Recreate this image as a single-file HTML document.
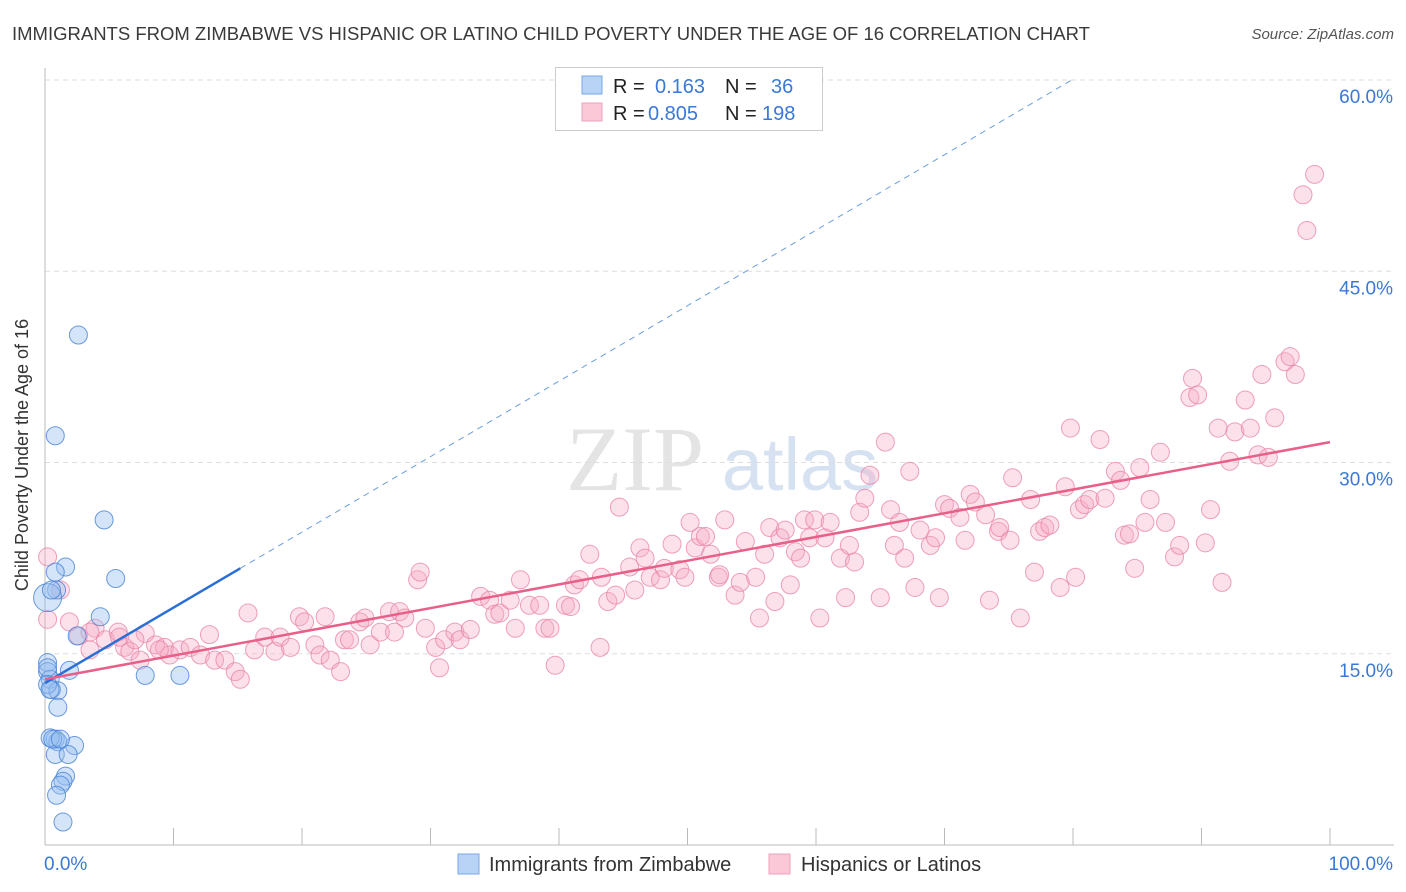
<!DOCTYPE html>
<html><head><meta charset="utf-8">
<style>
body{margin:0;background:#fff;font-family:"Liberation Sans",sans-serif;}
svg{display:block}
</style></head>
<body>
<svg id="chart" width="1406" height="892" viewBox="0 0 1406 892" xmlns="http://www.w3.org/2000/svg">
<text x="12" y="40" font-size="18.5" fill="#3a3a3a">IMMIGRANTS FROM ZIMBABWE VS HISPANIC OR LATINO CHILD POVERTY UNDER THE AGE OF 16 CORRELATION CHART</text>
<text x="1394" y="39" font-size="15" fill="#555" font-style="italic" text-anchor="end">Source: ZipAtlas.com</text>
<g>
<text x="635" y="490" font-size="92" fill="#e4e4e4" font-family="Liberation Serif, serif" text-anchor="middle">ZIP</text>
<text x="800" y="490" font-size="74" fill="#d6e2f2" text-anchor="middle">atlas</text>
</g>
<g id="grid"></g>
<g id="axes"></g>
<g id="pinkPts"></g>
<g id="bluePts"></g>
<g id="trends"></g>
<text x="28" y="455" font-size="18" fill="#333" text-anchor="middle" transform="rotate(-90 28 455)">Child Poverty Under the Age of 16</text>
<g>
<rect x="555.5" y="67.5" width="267" height="63" fill="#fff" stroke="#ccc"/>
<rect x="582" y="76" width="20" height="18" fill="#b8d3f5" stroke="#7aa8e6"/>
<rect x="582" y="103" width="20" height="18" fill="#fbc8d8" stroke="#eea0ba"/>
<text x="613" y="93" font-size="20" fill="#222">R = </text><text x="655" y="93" font-size="20" fill="#3a78d8">0.163</text>
<text x="725" y="93" font-size="20" fill="#222">N = </text><text x="771" y="93" font-size="20" fill="#3a78d8">36</text>
<text x="613" y="120" font-size="20" fill="#222">R = </text><text x="648" y="120" font-size="20" fill="#3a78d8">0.805</text>
<text x="725" y="120" font-size="20" fill="#222">N = </text><text x="762" y="120" font-size="20" fill="#3a78d8">198</text>
</g>
<g>
<rect x="458" y="854" width="21" height="20" fill="#b8d3f5" stroke="#7aa8e6"/>
<text x="489" y="871" font-size="20" fill="#333">Immigrants from Zimbabwe</text>
<rect x="769" y="854" width="21" height="20" fill="#fbc8d8" stroke="#eea0ba"/>
<text x="801" y="871" font-size="20" fill="#333">Hispanics or Latinos</text>
</g>
</svg>
<script>
const yTicks=[15,30,45,60];
const yTickLabels=["15.0%","30.0%","45.0%","60.0%"];
const xTicks=[0,10,20,30,40,50,60,70,80,90,100];
const xEndLabels=["0.0%","100.0%"];
const blueX=[2.6,0.8,4.6,5.5,1.6,0.8,0.9,0.2,4.3,2.5,7.8,10.5,1.9,0.2,0.2,0.4,0.5,1.0,1.0,0.8,1.0,0.4,2.3,0.8,1.8,1.6,1.4,1.2,0.9,1.4,0.2,0.2,0.6,1.2,0.4,0.5];
const blueY=[40.0,32.1,25.5,20.9,21.8,21.4,20.0,19.4,17.9,16.4,13.3,13.3,13.7,14.3,13.6,13.0,12.2,12.1,10.8,8.3,8.1,8.4,7.8,7.1,7.1,5.4,5.0,4.7,3.9,1.8,13.9,12.6,8.3,8.3,12.2,20.0];
const pinkX=[0.2,1.2,1.9,3.5,3.9,2.6,4.7,5.7,6.2,6.6,7.4,7.8,8.6,9.3,9.7,10.5,11.3,12.1,12.8,13.2,14.0,14.8,15.2,15.8,16.3,17.1,17.9,18.3,19.1,19.8,20.2,21.0,21.4,21.8,22.2,23.0,23.3,23.7,24.5,24.9,25.3,26.1,26.8,27.2,27.6,28.0,29.0,29.2,29.6,30.4,30.7,31.1,31.9,32.3,33.1,33.9,34.6,35.0,35.4,36.2,36.6,37.0,37.7,38.5,38.9,39.3,39.7,40.5,40.9,41.2,41.6,42.4,43.2,43.3,43.8,44.4,44.7,45.5,45.9,46.3,46.7,47.1,47.9,48.2,48.8,49.4,49.8,50.2,50.6,51.0,51.4,51.8,52.4,52.5,52.9,53.7,54.1,54.5,55.3,55.6,56.0,56.4,56.8,57.2,57.6,58.0,58.4,58.8,59.1,59.5,59.9,60.3,60.7,61.1,61.9,62.3,62.6,63.0,63.4,63.8,64.2,65.0,65.4,65.8,66.1,66.5,66.9,67.3,67.7,68.1,68.9,69.3,69.6,70.0,70.4,71.2,71.6,72.0,72.4,73.2,73.5,74.2,74.3,75.1,75.3,75.9,76.7,77.0,77.4,77.8,78.2,79.0,79.4,79.8,80.2,80.5,80.9,81.3,82.1,82.5,83.3,83.7,84.0,84.4,84.8,85.2,85.6,86.0,86.8,87.2,87.9,88.3,89.1,89.3,89.7,90.3,90.7,91.3,91.6,92.2,92.6,93.4,93.8,94.4,94.7,95.2,95.7,96.5,96.9,97.3,97.9,98.2,98.8,0.2,3.5,5.8,7.0,8.9];
const pinkY=[22.6,20.0,17.5,15.3,17.0,16.4,16.1,16.7,15.5,15.2,14.5,16.6,15.7,15.5,14.9,15.3,15.5,14.9,16.5,14.5,14.5,13.6,13.0,18.2,15.3,16.3,15.2,16.3,15.5,17.9,17.5,15.7,14.9,17.9,14.5,13.6,16.1,16.1,17.5,17.8,15.7,16.7,18.3,16.7,18.3,17.8,20.8,21.4,17.0,15.5,13.9,16.1,16.7,16.1,16.9,19.5,19.2,18.1,18.2,19.2,17.0,20.8,18.8,18.8,17.0,17.0,14.1,18.8,18.7,20.4,20.8,22.8,15.5,21.0,19.1,19.6,26.5,21.8,20.0,23.3,22.5,21.0,20.8,21.7,23.6,21.6,21.0,25.3,23.3,24.2,24.2,22.8,21.0,21.2,25.5,19.6,20.6,23.8,21.0,17.8,22.8,24.9,19.1,24.1,24.7,20.4,23.0,22.5,25.5,24.1,25.5,17.8,24.1,25.3,22.5,19.4,23.5,22.2,26.1,27.2,29.0,19.4,31.6,26.3,23.5,25.3,22.5,29.3,20.2,24.7,23.5,24.1,19.4,26.7,26.4,25.7,23.9,27.5,26.9,25.9,19.2,24.6,24.9,23.9,28.8,17.8,27.1,21.4,24.6,24.9,25.1,20.2,28.1,32.7,21.0,26.3,26.7,27.1,31.8,27.2,29.3,28.6,24.3,24.4,21.7,29.6,25.3,27.1,30.8,25.3,22.6,23.5,35.1,36.6,35.3,23.7,26.3,32.7,20.6,30.1,32.4,34.9,32.7,30.6,36.9,30.4,33.5,37.9,38.3,36.9,51.0,48.2,52.6,17.7,16.7,16.3,16.1,15.3];
const blueTrend=[12.7,0.592];   // intercept, slope
const blueSolidEnd=[15.2];
const pinkTrend=[13.0,0.186];

const X0=45,X1=1330,YB=845,PX_PER=12.75;
const xs=v=>X0+(X1-X0)*v/100;
const ys=v=>YB-v*PX_PER;
const NS="http://www.w3.org/2000/svg";
function mk(tag,attrs,parent){const e=document.createElementNS(NS,tag);for(const k in attrs)e.setAttribute(k,attrs[k]);parent.appendChild(e);return e;}
const grid=document.getElementById('grid'),axes=document.getElementById('axes');
yTicks.forEach((t,i)=>{
  const l=mk('line',{x1:X0,x2:1394,y1:ys(t),y2:ys(t),stroke:'#ddd','stroke-dasharray':'5,4'},grid);
  
  
  const tx=mk('text',{x:1393,y:ys(t)+23,'font-size':19,fill:'#3a78d8','text-anchor':'end'},axes);
  tx.textContent=yTickLabels[i];
  
  
});
const xa=mk('line',{x1:X0,x2:1394,y1:YB,y2:YB,stroke:'#bbb'},axes);


const ya=mk('line',{x1:X0,x2:X0,y1:68,y2:YB,stroke:'#bbb'},axes);


xTicks.forEach(t=>{
  const l=mk('line',{x1:xs(t),x2:xs(t),y1:828,y2:YB,stroke:'#bbb'},axes);
  
  
});
const xl0=mk('text',{x:44,y:870,'font-size':19,fill:'#3a78d8'},axes);xl0.textContent=xEndLabels[0];


const xl1=mk('text',{x:1393,y:870,'font-size':19,fill:'#3a78d8','text-anchor':'end'},axes);xl1.textContent=xEndLabels[1];



const pg=document.getElementById('pinkPts');
pinkX.forEach((v,i)=>{
  const c=mk('circle',{cx:xs(v),cy:ys(pinkY[i]),r:9,fill:'rgba(246,168,194,0.35)',stroke:'rgba(232,130,165,0.75)','stroke-width':1},pg);
  
  
});
const bg=document.getElementById('bluePts');
blueX.forEach((v,i)=>{
  const c=mk('circle',{cx:xs(v),cy:ys(blueY[i]),r:(i===7?14:9),fill:'rgba(150,190,240,0.4)',stroke:'rgba(70,130,215,0.8)','stroke-width':1},bg);
  
  
});
const tg=document.getElementById('trends');
const bEnd=(60-blueTrend[0])/blueTrend[1];
const bd=mk('line',{x1:xs(blueSolidEnd[0]),y1:ys(blueTrend[0]+blueTrend[1]*blueSolidEnd[0]),x2:xs(bEnd),y2:ys(60),stroke:'#6a9ee0','stroke-width':1,'stroke-dasharray':'6,5'},tg);


const bs=mk('line',{x1:xs(0),y1:ys(blueTrend[0]),x2:xs(blueSolidEnd[0]),y2:ys(blueTrend[0]+blueTrend[1]*blueSolidEnd[0]),stroke:'#2a6fd6','stroke-width':2.5},tg);


const pl=mk('line',{x1:xs(0),y1:ys(pinkTrend[0]),x2:xs(100),y2:ys(pinkTrend[0]+pinkTrend[1]*100),stroke:'#e8608a','stroke-width':2.5},tg);


</script>
</body></html>
